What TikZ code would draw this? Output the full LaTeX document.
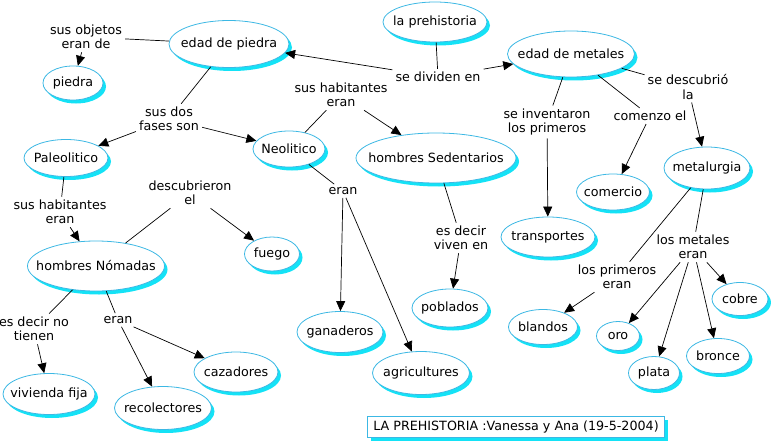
\documentclass[tikz,border=0pt]{standalone}
\usepackage{fontspec}
\setmainfont{DejaVu Sans}
\usepackage{tikz}
\usetikzlibrary{arrows.meta, shapes.geometric, shadows, positioning}
\definecolor{ovalline}{HTML}{3CB8E4}
\definecolor{ovalshade}{HTML}{14E2F6}

\begin{document}
\begin{tikzpicture}[x=1pt, y=-1pt,
    font=\fontsize{12.7}{14.3}\selectfont,
    oval/.style 2 args={ellipse, draw=ovalline, line width=0.8pt, fill=white,
          inner xsep=-14pt, inner ysep=0pt,
          minimum width=#1, minimum height=#2,
          drop shadow={shadow xshift=3pt, shadow yshift=-3.5pt,
                       fill=ovalshade, opacity=1}},
    link/.style={align=center, inner sep=3pt},
    conn/.style={line width=0.7pt},
    conarrow/.style={conn, -{Triangle[length=10pt, width=9pt]}}]
    \useasboundingbox (0,0) rectangle (771,444);

    \node[oval={120}{47}](edadpiedra) at (229,44){edad de piedra};
    \node[oval={60}{34}](piedra) at (73,83){piedra};
    \node[oval={84}{37}](paleo) at (66,158){Paleolitico};
    \node[oval={72}{36}](neo) at (289,149){Neolitico};
    \node[oval={104}{40}](prehist) at (435,22){la prehistoria};
    \node[oval={127}{46}](metales) at (571,54){edad de metales};
    \node[oval={86}{42}](metalurgia) at (707,168){metalurgia};
    \node[oval={73}{36}](comercio) at (613,192){comercio};
    \node[oval={94}{40}](transportes) at (548,237){transportes};
    \node[oval={160}{50}](sedent) at (436,158){hombres Sedentarios};
    \node[oval={137}{50}](nomadas) at (96,266){hombres Nómadas};
    \node[oval={55}{34}](fuego) at (272,254){fuego};
    \node[oval={92}{41}](vivienda) at (49,394){vivienda fija};
    \node[oval={97}{43}](recolect) at (163,408){recolectores};
    \node[oval={84}{40}](cazad) at (236,372){cazadores};
    \node[oval={86}{41}](ganad) at (340,332){ganaderos};
    \node[oval={97}{43}](agric) at (421,373){agricultures};
    \node[oval={76}{38}](poblados) at (450,308){poblados};
    \node[oval={69}{35}](blandos) at (543,327){blandos};
    \node[oval={43}{29}](oro) at (618,336){oro};
    \node[oval={51}{33}](plata) at (654,373){plata};
    \node[oval={63}{35}](bronce) at (718,356){bronce};
    \node[oval={56}{33}](cobre) at (740,299){cobre};

    \node[rectangle, draw=ovalline, line width=0.8pt, fill=white,
          minimum width=297pt, minimum height=21pt, inner sep=2pt,
          drop shadow={shadow xshift=3pt, shadow yshift=-3pt,
                       fill=ovalshade, opacity=1}]
         (titulo) at (516,427){LA PREHISTORIA :Vanessa y Ana (19-5-2004)};

    \node[link](lobjetos) at (86,37){sus objetos\\eran de};
    \node[link](ldosfases) at (169,119){sus dos\\fases son};
    \node[link](lhabsed) at (341,95){sus habitantes\\eran};
    \node[link](lneoeran) at (343,191){eran};
    \node[link](ldividen) at (438,77){se dividen en};
    \node[link](ldescla) at (688,87){se descubrió\\la};
    \node[link](lcomenzo) at (650,116){comenzo el};
    \node[link](linvent) at (547,122){se inventaron\\los primeros};
    \node[link](lviven) at (461,238){es decir\\viven en};
    \node[link](lprimeros) at (617,277){los primeros\\eran};
    \node[link](lmetales) at (693,247){los metales\\eran};
    \node[link](lhabpal) at (60,212){sus habitantes\\eran};
    \node[link](ldescub) at (190,193){descubrieron\\el};
    \node[link](lnotienen) at (34,329){es decir no\\tienen};
    \node[link](lnomeran) at (118,320){eran};

    \draw[conn](edadpiedra)--(lobjetos);
    \draw[conarrow](lobjetos)--(piedra);
    \draw[conn](edadpiedra)--(ldosfases);
    \draw[conarrow](ldosfases)--(paleo);
    \draw[conarrow](ldosfases)--(neo);
    \draw[conn](prehist)--(ldividen);
    \draw[conarrow](ldividen)--(edadpiedra);
    \draw[conarrow](ldividen)--(metales);
    \draw[conn](neo)--(lhabsed);
    \draw[conarrow](lhabsed)--(sedent);
    \draw[conn](neo)--(lneoeran);
    \draw[conarrow](lneoeran)--(ganad);
    \draw[conarrow](lneoeran)--(agric);
    \draw[conn](sedent)--(lviven);
    \draw[conarrow](lviven)--(poblados);
    \draw[conn](metales)--(linvent);
    \draw[conarrow](linvent)--(transportes);
    \draw[conn](metales)--(lcomenzo);
    \draw[conarrow](lcomenzo)--(comercio);
    \draw[conn](metales)--(ldescla);
    \draw[conarrow](ldescla)--(metalurgia);
    \draw[conn](metalurgia)--(lprimeros);
    \draw[conarrow](lprimeros)--(blandos);
    \draw[conn](metalurgia)--(lmetales);
    \draw[conarrow](lmetales)--(oro);
    \draw[conarrow](lmetales)--(plata);
    \draw[conarrow](lmetales)--(bronce);
    \draw[conarrow](lmetales)--(cobre);
    \draw[conn](paleo)--(lhabpal);
    \draw[conarrow](lhabpal)--(nomadas);
    \draw[conn](nomadas)--(ldescub);
    \draw[conarrow](ldescub)--(fuego);
    \draw[conn](nomadas)--(lnotienen);
    \draw[conarrow](lnotienen)--(vivienda);
    \draw[conn](nomadas)--(lnomeran);
    \draw[conarrow](lnomeran)--(recolect);
    \draw[conarrow](lnomeran)--(cazad);
\end{tikzpicture}
\end{document}
